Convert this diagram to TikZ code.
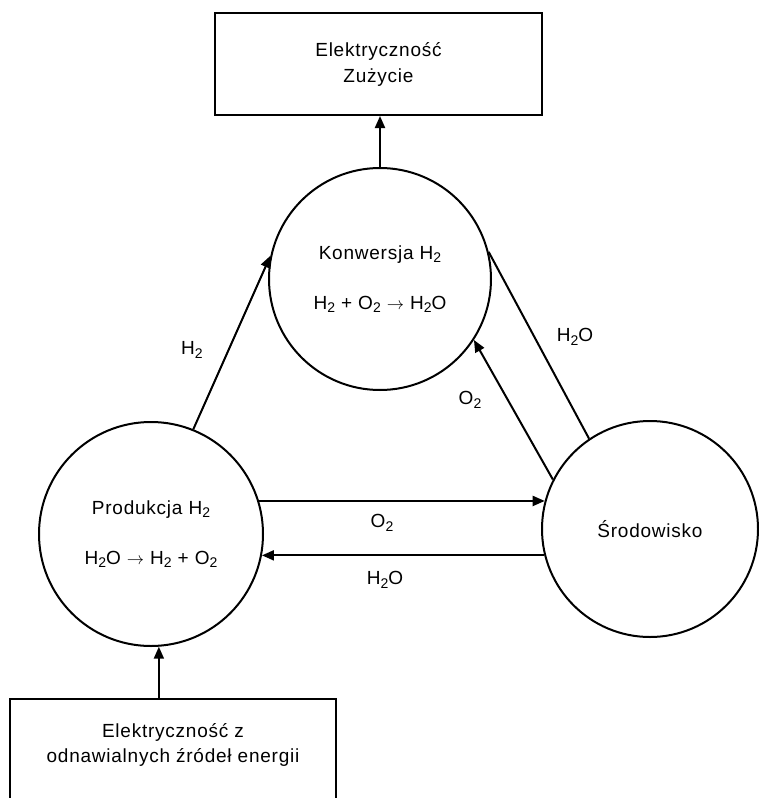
\documentclass[tikz,border=0pt]{standalone}
\usepackage{fontspec}
\setmainfont{Liberation Sans}[LetterSpace=4]
\usetikzlibrary{arrows.meta,calc}

% chemical-formula subscript: smaller digit set slightly below the baseline
\newcommand\chsub[1]{\raisebox{-0.35ex}{\fontsize{14}{14}\selectfont #1}}

\begin{document}
\begin{tikzpicture}[x=1pt,y=-1pt,
    font=\fontsize{19}{26}\selectfont,
    box/.style={draw=black,line width=2pt,rectangle,inner sep=0pt},
    proc/.style={draw=black,line width=2pt,circle,inner sep=0pt,align=center},
    flow/.style={line width=2pt},
    flowarr/.style={flow,-{Triangle[length=12pt,width=10pt]}},
    lbl/.style={inner sep=0pt}]
  \useasboundingbox (0,0) rectangle (759,798);

  % consumer box at the top
  \node[box,minimum width=327pt,minimum height=102pt,align=center] (use) at (378.5,64)
    {Elektryczność\\Zużycie};

  % the three process circles
  \node[proc,minimum size=222pt] (konw) at (380,279)
    {Konwersja H\chsub{2}\\[24pt]H\chsub{2} + O\chsub{2} $\rightarrow$ H\chsub{2}O};
  \node[proc,minimum size=224pt] (prod) at (151,534)
    {Produkcja H\chsub{2}\\[24pt]H\chsub{2}O $\rightarrow$ H\chsub{2} + O\chsub{2}};
  \node[proc,minimum size=216pt] (srod) at (650,529) {Środowisko};

  % renewable source box at the bottom (runs past the lower edge)
  \node[box,minimum width=326pt,minimum height=120pt,anchor=north] (src) at (173,698) {};
  \node[lbl,align=center,font=\fontsize{19}{25}\selectfont] (srctext) at (173,745)
    {Elektryczność z\\odnawialnych źródeł energii};

  % flows
  \draw[flowarr] (konw.north) -- (use.south -| konw.north);
  \draw[flowarr] (prod.-86 |- src.north) -- (prod.-86);
  \draw[flowarr] (prod.68) -- (konw.168);
  \draw[flow] (konw.14) -- (srod.124);
  \draw[flowarr] (srod.153) -- (konw.-33);
  \draw[flowarr] (prod.17) -- (prod.17 -| srod.165);
  \draw[flowarr] (srod.194) -- (srod.194 -| prod.-11);

  % flow labels
  \node[lbl] (lh2) at (192,350) {H\chsub{2}};
  \node[lbl] (lh2o) at (575,337) {H\chsub{2}O};
  \node[lbl] (lo2d) at (470,400) {O\chsub{2}};
  \node[lbl] (lo2h) at (382,523) {O\chsub{2}};
  \node[lbl] (lh2oh) at (385,580) {H\chsub{2}O};
\end{tikzpicture}
\end{document}
